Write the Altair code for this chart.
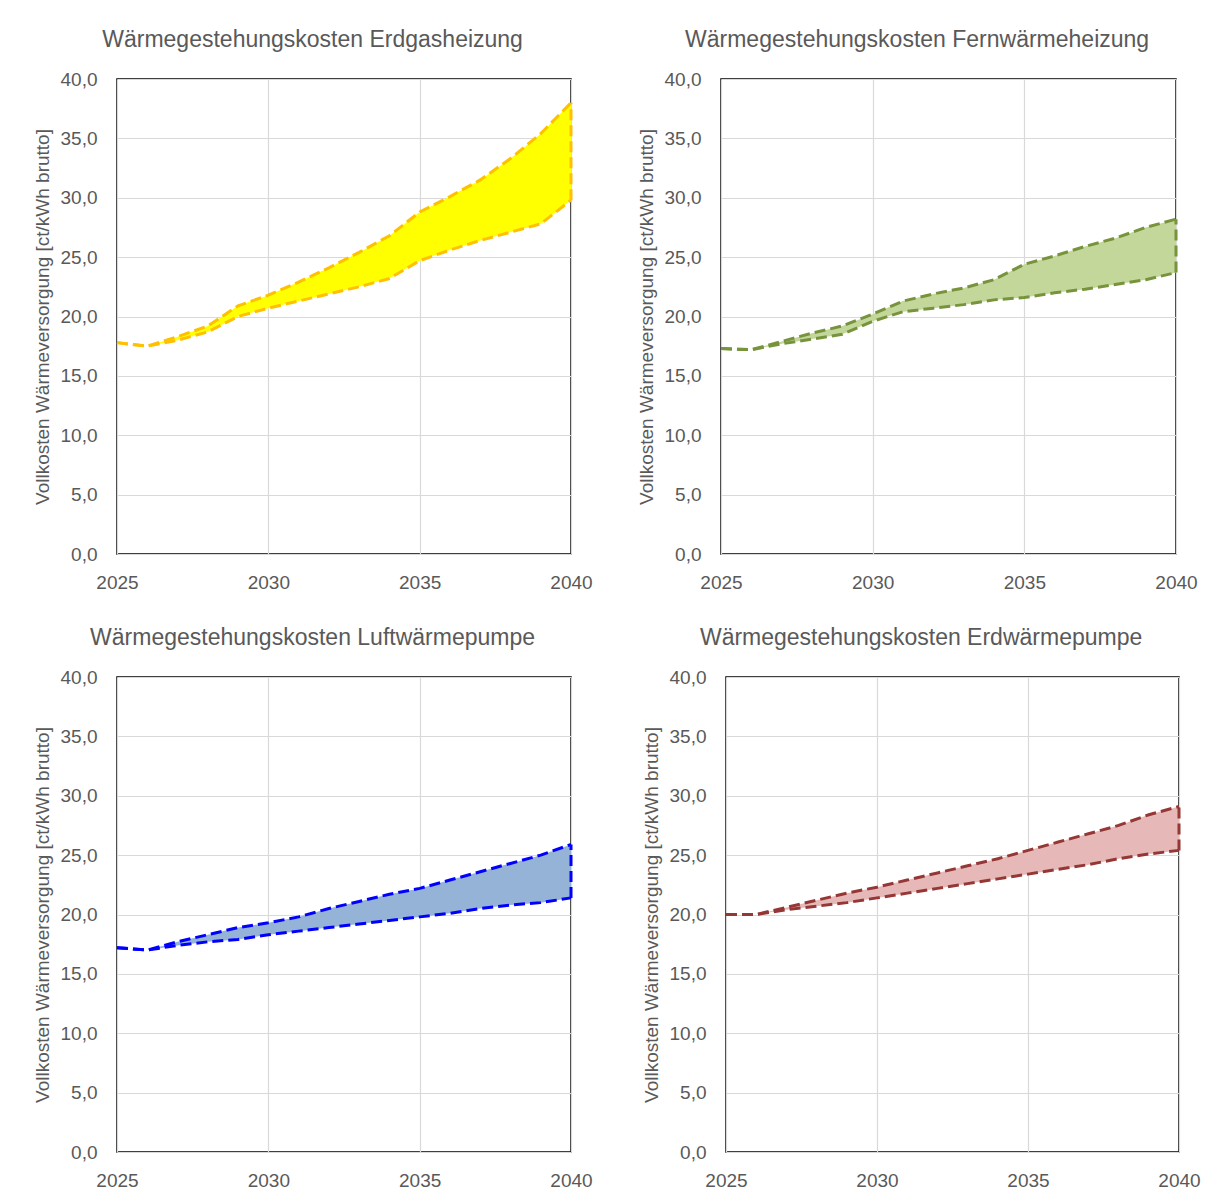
import altair as alt
import pandas as pd

years = list(range(2025, 2041))

titles = [
    "Wärmegestehungskosten Erdgasheizung",
    "Wärmegestehungskosten Fernwärmeheizung",
    "Wärmegestehungskosten Luftwärmepumpe",
    "Wärmegestehungskosten Erdwärmepumpe",
]

gas_low = [17.8, 17.5, 18.0, 18.7, 20.0, 20.7, 21.3, 21.9, 22.5, 23.2, 24.7, 25.6, 26.4, 27.1, 27.8, 29.8]
gas_high = [17.8, 17.5, 18.3, 19.2, 20.9, 21.8, 22.9, 24.1, 25.4, 26.8, 28.8, 30.1, 31.5, 33.3, 35.4, 38.0]

fern_low = [17.3, 17.2, 17.7, 18.1, 18.5, 19.6, 20.4, 20.7, 21.0, 21.4, 21.6, 22.0, 22.3, 22.7, 23.1, 23.7]
fern_high = [17.3, 17.2, 17.9, 18.6, 19.2, 20.2, 21.3, 21.9, 22.4, 23.1, 24.4, 25.1, 25.9, 26.6, 27.5, 28.2]

luft_low = [17.2, 17.0, 17.4, 17.7, 17.9, 18.3, 18.6, 18.9, 19.2, 19.5, 19.8, 20.1, 20.5, 20.8, 21.0, 21.4]
luft_high = [17.2, 17.0, 17.7, 18.3, 18.9, 19.3, 19.8, 20.5, 21.1, 21.7, 22.2, 22.9, 23.6, 24.3, 25.0, 25.9]

erd_low = [20.0, 20.0, 20.4, 20.7, 21.0, 21.4, 21.8, 22.2, 22.6, 23.0, 23.4, 23.8, 24.2, 24.7, 25.1, 25.4]
erd_high = [20.0, 20.0, 20.6, 21.2, 21.8, 22.3, 22.9, 23.5, 24.1, 24.7, 25.4, 26.1, 26.8, 27.5, 28.4, 29.1]

fills = ["#FFFF00", "#C4D79B", "#95B3D7", "#E6B9B8"]
strokes = ["#FFC000", "#77933C", "#0000FF", "#953735"]

y_title = "Vollkosten Wärmeversorgung [ct/kWh brutto]"
FONT = "Liberation Sans, Arial, sans-serif"
GREY = "#595959"
DASH = [11, 5]
SW = 3


def panel(i, low, high, w=454):
    df = pd.DataFrame({"Jahr": years, "low": low, "high": high})
    x = alt.X(
        "Jahr:Q",
        scale=alt.Scale(domain=[2025, 2040], nice=False, zero=False),
        axis=alt.Axis(values=[2025, 2030, 2035, 2040], format="d", title=None),
    )
    yscale = alt.Scale(domain=[0, 40], nice=False)
    yaxis = alt.Axis(
        values=[0, 5, 10, 15, 20, 25, 30, 35, 40],
        labelExpr="replace(format(datum.value, '.1f'), '.', ',')",
        title=y_title,
    )
    base = alt.Chart(df)
    area = base.mark_area(color=fills[i], fillOpacity=1).encode(
        x=x, y=alt.Y("high:Q", scale=yscale, axis=yaxis), y2="low:Q"
    )
    line_hi = base.mark_line(color=strokes[i], strokeWidth=SW, strokeDash=DASH).encode(
        x="Jahr:Q", y="high:Q"
    )
    line_lo = base.mark_line(color=strokes[i], strokeWidth=SW, strokeDash=DASH).encode(
        x="Jahr:Q", y="low:Q"
    )
    edge = (
        base.transform_filter(alt.datum.Jahr == max(years))
        .mark_rule(color=strokes[i], strokeWidth=SW, strokeDash=DASH)
        .encode(x="Jahr:Q", y="low:Q", y2="high:Q")
    )
    return alt.layer(area, line_lo, line_hi, edge, title=alt.TitleParams(titles[i])).properties(
        width=w, height=475
    )


p1 = panel(0, gas_low, gas_high)
p2 = panel(1, fern_low, fern_high, 455)
p3 = panel(2, luft_low, luft_high)
p4 = panel(3, erd_low, erd_high, 453)

chart = (
    alt.vconcat(
        alt.hconcat(p1, p2, spacing=43),
        alt.hconcat(p3, p4, spacing=48),
        spacing=33,
    )
    .properties(padding={"left": 24, "top": 20, "right": 0, "bottom": 0})
    .configure_view(stroke="#000000", strokeWidth=1.5)
    .configure_axis(
        grid=True,
        gridColor="#D9D9D9",
        gridWidth=1.2,
        domain=False,
        ticks=False,
        labelFont=FONT,
        labelFontSize=19,
        labelColor=GREY,
        titleFont=FONT,
        titleFontSize=19,
        titleFontWeight="normal",
        titleColor=GREY,
    )
    .configure_axisY(labelPadding=20, titlePadding=8)
    .configure_axisX(labelPadding=19, labelFlush=False)
    .configure_title(
        font=FONT,
        fontSize=23,
        fontWeight="normal",
        color=GREY,
        anchor="middle",
        frame="bounds",
        offset=18,
    )
)

chart.save("out.html", embed_options={"renderer": "svg", "actions": False})
